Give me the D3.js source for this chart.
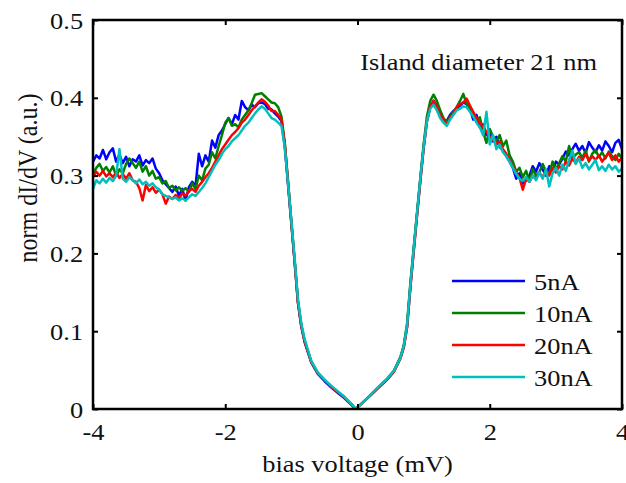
<!DOCTYPE html>
<html>
<head>
<meta charset="utf-8">
<script src="https://cdn.jsdelivr.net/npm/d3@7"></script>
<style>
  body { margin: 0; background: #fff; }
  svg text { font-family: "Liberation Serif", "Times New Roman", serif; fill: #111; }
</style>
</head>
<body>
<svg id="chart" width="626" height="483"></svg>
<script>
// bias grid (mV): left flank, gap, right flank
const biasLeft = d3.range(57).map(i => +(-4 + 0.05 * i).toFixed(2));   // -4.00 .. -1.20
const biasGap = [-1.15, -1.10, -1.05, -1.00, -0.95, -0.90, -0.85, -0.80, -0.70, -0.60,
  -0.50, -0.40, -0.30, -0.20, -0.10, -0.03, 0.05, 0.15, 0.25, 0.35,
  0.45, 0.55, 0.65, 0.70, 0.75, 0.80, 0.85, 0.90, 0.95, 1.00, 1.05, 1.10];
const biasRight = d3.range(58).map(i => +(1.15 + 0.05 * i).toFixed(2));  // 1.15 .. 4.00
const bias = biasLeft.concat(biasGap, biasRight);

const seriesNames = ["5nA", "10nA", "20nA", "30nA"];
const seriesColors = ["#0000ff", "#008000", "#ff0000", "#00bfbf"];

// norm dI/dV, 5nA
const current5 = [
  0.318, 0.326, 0.322, 0.333, 0.321, 0.330, 0.335, 0.318, 0.327, 0.316,
  0.324, 0.312, 0.321, 0.318, 0.326, 0.313, 0.320, 0.316, 0.322, 0.309,
  0.303, 0.294, 0.289, 0.284, 0.279, 0.286, 0.274, 0.283, 0.268, 0.285,
  0.292, 0.286, 0.328, 0.312, 0.326, 0.318, 0.345, 0.336, 0.352, 0.358,
  0.366, 0.374, 0.366, 0.378, 0.372, 0.396, 0.388, 0.384, 0.391, 0.388,
  0.393, 0.394, 0.392, 0.386, 0.385, 0.380, 0.376,
  // gap
  0.370, 0.338, 0.288, 0.238, 0.188, 0.136, 0.106, 0.086, 0.060, 0.045,
  0.036, 0.028, 0.021, 0.014, 0.006, 0.000, 0.006, 0.014, 0.022, 0.030,
  0.038, 0.048, 0.066, 0.080, 0.106, 0.158, 0.204, 0.250, 0.294, 0.336,
  0.370, 0.388,
  // right
  0.396, 0.390, 0.378, 0.372, 0.370, 0.378, 0.383, 0.386, 0.390, 0.394,
  0.392, 0.386, 0.372, 0.378, 0.362, 0.366, 0.352, 0.358, 0.344, 0.350,
  0.337, 0.332, 0.325, 0.318, 0.310, 0.296, 0.303, 0.290, 0.294, 0.300,
  0.312, 0.305, 0.316, 0.308, 0.300, 0.312, 0.305, 0.318, 0.314, 0.322,
  0.331, 0.326, 0.334, 0.341, 0.332, 0.338, 0.329, 0.343, 0.336, 0.330,
  0.339, 0.332, 0.344, 0.338, 0.330, 0.342, 0.346, 0.334
];

// norm dI/dV, 10nA
const current10 = [
  0.302, 0.310, 0.315, 0.306, 0.311, 0.304, 0.312, 0.300, 0.308, 0.303,
  0.315, 0.322, 0.316, 0.310, 0.318, 0.305, 0.312, 0.300, 0.306, 0.296,
  0.298, 0.290, 0.293, 0.284, 0.287, 0.281, 0.285, 0.280, 0.284, 0.279,
  0.290, 0.283, 0.300, 0.294, 0.309, 0.314, 0.330, 0.322, 0.338, 0.352,
  0.368, 0.374, 0.364, 0.366, 0.362, 0.372, 0.378, 0.384, 0.393, 0.404,
  0.405, 0.406, 0.402, 0.398, 0.394, 0.393, 0.388,
  // gap
  0.376, 0.342, 0.292, 0.240, 0.190, 0.138, 0.108, 0.088, 0.061, 0.046,
  0.037, 0.029, 0.022, 0.015, 0.007, 0.000, 0.006, 0.014, 0.022, 0.031,
  0.039, 0.049, 0.067, 0.082, 0.110, 0.162, 0.207, 0.252, 0.297, 0.340,
  0.376, 0.396,
  // right
  0.404, 0.396, 0.384, 0.374, 0.368, 0.376, 0.382, 0.388, 0.396, 0.405,
  0.392, 0.384, 0.378, 0.370, 0.375, 0.356, 0.342, 0.360, 0.350, 0.344,
  0.352, 0.338, 0.345, 0.326, 0.318, 0.305, 0.310, 0.298, 0.306, 0.293,
  0.308, 0.300, 0.304, 0.315, 0.306, 0.302, 0.318, 0.308, 0.316, 0.325,
  0.318, 0.338, 0.322, 0.327, 0.330, 0.323, 0.332, 0.318, 0.328, 0.333,
  0.324, 0.330, 0.322, 0.331, 0.325, 0.320, 0.328, 0.322
];

// norm dI/dV, 20nA
const current20 = [
  0.298, 0.305, 0.300, 0.306, 0.299, 0.303, 0.298, 0.304, 0.297, 0.302,
  0.296, 0.303, 0.294, 0.292, 0.284, 0.268, 0.288, 0.280, 0.285, 0.278,
  0.282, 0.276, 0.264, 0.273, 0.270, 0.275, 0.271, 0.277, 0.274, 0.280,
  0.283, 0.279, 0.287, 0.292, 0.298, 0.303, 0.310, 0.318, 0.326, 0.334,
  0.340, 0.346, 0.352, 0.356, 0.361, 0.368, 0.372, 0.378, 0.384, 0.389,
  0.394, 0.398, 0.395, 0.390, 0.383, 0.383, 0.378,
  // gap
  0.372, 0.341, 0.291, 0.240, 0.189, 0.137, 0.107, 0.087, 0.061, 0.046,
  0.037, 0.029, 0.022, 0.015, 0.007, 0.000, 0.006, 0.014, 0.022, 0.030,
  0.038, 0.048, 0.065, 0.079, 0.105, 0.156, 0.202, 0.248, 0.293, 0.335,
  0.370, 0.389,
  // right
  0.396, 0.389, 0.378, 0.372, 0.366, 0.374, 0.380, 0.388, 0.392, 0.394,
  0.399, 0.390, 0.382, 0.374, 0.368, 0.362, 0.356, 0.350, 0.346, 0.340,
  0.344, 0.334, 0.328, 0.320, 0.312, 0.304, 0.297, 0.282, 0.296, 0.292,
  0.300, 0.296, 0.304, 0.298, 0.306, 0.300, 0.310, 0.304, 0.312, 0.308,
  0.318, 0.313, 0.322, 0.316, 0.324, 0.320, 0.328, 0.319, 0.325, 0.320,
  0.326, 0.318, 0.324, 0.329, 0.320, 0.326, 0.318, 0.323
];

// norm dI/dV, 30nA
const current30 = [
  0.283, 0.294, 0.290, 0.296, 0.291, 0.297, 0.293, 0.300, 0.334, 0.296,
  0.292, 0.298, 0.294, 0.290, 0.295, 0.289, 0.292, 0.287, 0.290, 0.285,
  0.282, 0.276, 0.274, 0.272, 0.270, 0.272, 0.268, 0.271, 0.268, 0.272,
  0.276, 0.274, 0.279, 0.284, 0.290, 0.298, 0.306, 0.314, 0.320, 0.328,
  0.334, 0.338, 0.344, 0.348, 0.352, 0.358, 0.364, 0.368, 0.374, 0.380,
  0.385, 0.389, 0.386, 0.380, 0.374, 0.372, 0.368,
  // gap
  0.364, 0.336, 0.290, 0.242, 0.193, 0.141, 0.110, 0.090, 0.062, 0.047,
  0.038, 0.030, 0.023, 0.016, 0.007, 0.000, 0.006, 0.014, 0.023, 0.031,
  0.039, 0.049, 0.066, 0.081, 0.108, 0.160, 0.206, 0.251, 0.296, 0.337,
  0.370, 0.386,
  // right
  0.391, 0.384, 0.374, 0.368, 0.364, 0.372, 0.378, 0.384, 0.386, 0.389,
  0.388, 0.382, 0.376, 0.368, 0.362, 0.352, 0.382, 0.340, 0.352, 0.334,
  0.340, 0.330, 0.325, 0.318, 0.310, 0.302, 0.296, 0.293, 0.298, 0.292,
  0.300, 0.294, 0.304, 0.296, 0.308, 0.286, 0.303, 0.310, 0.300, 0.314,
  0.306, 0.320, 0.332, 0.315, 0.322, 0.310, 0.316, 0.308, 0.314, 0.320,
  0.307, 0.312, 0.306, 0.314, 0.308, 0.312, 0.305, 0.309
];

const allSeries = [current5, current10, current20, current30];
const xTicks = [-4, -2, 0, 2, 4];
const yTicks = [0, 0.1, 0.2, 0.3, 0.4, 0.5];

allSeries.forEach((s, i) => {
  if (s.length !== bias.length) console.error(seriesNames[i], s.length, bias.length);
});

const svg = d3.select("#chart"),
  margin = { top: 20, right: 4, bottom: 74, left: 93 },
  width = +svg.attr("width") - margin.left - margin.right,
  height = +svg.attr("height") - margin.top - margin.bottom;

// the source figure is a little wider than tall, so text is stretched sideways
const stretch = 1.1;

const x = d3.scaleLinear().domain([-4, 4]).range([0, width]);
const y = d3.scaleLinear().domain([0, 0.5]).range([height, 0]);

const g = svg.append("g")
  .attr("transform", `translate(${margin.left},${margin.top})`);

g.append("clipPath").attr("id", "plot-clip")
  .append("rect").attr("width", width).attr("height", height + 2).attr("y", -1);

// curves
const line = d3.line()
  .x((d, i) => x(bias[i]))
  .y(d => y(d));

g.append("g").attr("clip-path", "url(#plot-clip)")
  .selectAll("path")
  .data(allSeries)
  .enter()
  .append("path")
  .attr("d", line)
  .attr("fill", "none")
  .attr("stroke", (d, i) => seriesColors[i])
  .attr("stroke-width", 2.5)
  .attr("stroke-linejoin", "round");

// axes: ticks pointing inward on all four sides, no domain path
const fmtY = d => d === 0 ? "0" : d3.format(".1f")(d);

const axisB = g.append("g")
  .attr("transform", `translate(0,${height})`)
  .call(d3.axisBottom(x).tickValues(xTicks).tickSize(-5).tickPadding(14).tickFormat(d => String(d)));
const axisT = g.append("g")
  .call(d3.axisTop(x).tickValues(xTicks).tickSize(-5).tickFormat(""));
const axisL = g.append("g")
  .call(d3.axisLeft(y).tickValues(yTicks).tickSize(-5).tickPadding(9).tickFormat(fmtY));
const axisR = g.append("g")
  .attr("transform", `translate(${width},0)`)
  .call(d3.axisRight(y).tickValues(yTicks).tickSize(-5).tickFormat(""));

[axisB, axisT, axisL, axisR].forEach(a => {
  a.select(".domain").remove();
  a.selectAll(".tick line").attr("stroke", "#000").attr("stroke-width", 2);
  a.selectAll("text")
    .attr("font-size", "24px")
    .attr("font-family", null)
    .attr("fill", "#111")
    .attr("transform", `scale(${stretch},1)`);
});
axisB.selectAll("text").attr("dy", "0.71em");
axisL.selectAll("text").attr("dy", "0.34em");

// frame
g.append("rect")
  .attr("width", width)
  .attr("height", height)
  .attr("fill", "none")
  .attr("stroke", "#000")
  .attr("stroke-width", 2.5);

// axis titles
g.append("text")
  .attr("transform", `translate(${x(0)},${height + 63}) scale(${stretch},1)`)
  .attr("text-anchor", "middle")
  .attr("font-size", "24px")
  .text("bias voltage (mV)");

g.append("text")
  .attr("transform", `translate(${-56},${158}) rotate(-90) scale(1,${stretch})`)
  .attr("text-anchor", "middle")
  .attr("font-size", "24px")
  .text("norm dI/dV (a.u.)");

// annotation
g.append("text")
  .attr("transform", `translate(${width - 25},${50}) scale(${stretch},1)`)
  .attr("text-anchor", "end")
  .attr("font-size", "24px")
  .text("Island diameter 21 nm");

// legend
const legend = g.append("g")
  .attr("transform", `translate(${359},${261})`);

const item = legend.selectAll("g")
  .data(seriesNames)
  .enter()
  .append("g")
  .attr("transform", (d, i) => `translate(0,${i * 32})`);

item.append("line")
  .attr("x1", 0).attr("x2", 73)
  .attr("stroke", (d, i) => seriesColors[i])
  .attr("stroke-width", 2.5);

item.append("text")
  .attr("transform", `translate(${82},${9}) scale(${stretch},1)`)
  .attr("font-size", "24px")
  .text(d => d);
</script>
</body>
</html>
